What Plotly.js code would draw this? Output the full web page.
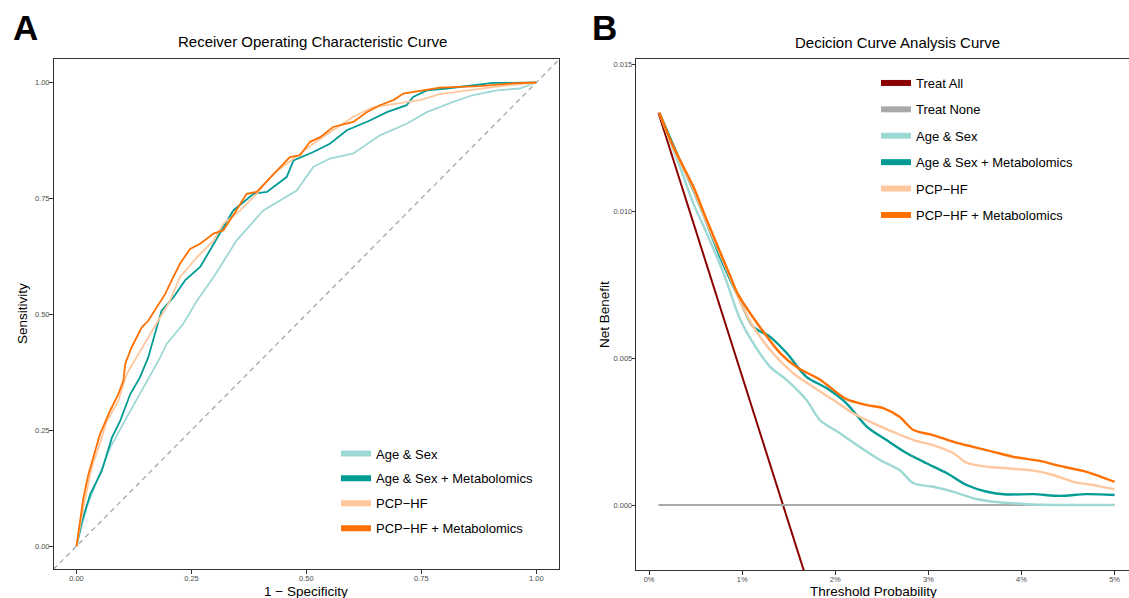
<!DOCTYPE html>
<html>
<head>
<meta charset="utf-8">
<script src="https://cdn.plot.ly/plotly-3.0.1.min.js"></script>
<style>html,body{margin:0;padding:0;background:#fff;}#chart{width:1129px;height:598px;}</style>
</head>
<body>
<div id="chart"></div>
<script>
// ---------- Panel A: ROC curves ----------
const rocNames = ["Age & Sex", "Age & Sex + Metabolomics", "PCP\u2212HF", "PCP\u2212HF + Metabolomics"];

const ageSexFpr = [0, 0.022, 0.044, 0.073, 0.109, 0.145, 0.182, 0.196, 0.232, 0.262, 0.298, 0.348, 0.406, 0.479, 0.515, 0.551, 0.602, 0.660, 0.718, 0.762, 0.819, 0.863, 0.914, 0.964, 1.0];
const ageSexTpr = [0, 0.083, 0.140, 0.212, 0.277, 0.342, 0.407, 0.436, 0.479, 0.529, 0.580, 0.659, 0.724, 0.767, 0.818, 0.836, 0.847, 0.886, 0.911, 0.936, 0.958, 0.973, 0.983, 0.987, 1.0];

const ageSexMetFpr = [0, 0.012, 0.030, 0.055, 0.077, 0.095, 0.117, 0.138, 0.156, 0.171, 0.185, 0.211, 0.236, 0.269, 0.298, 0.341, 0.385, 0.414, 0.457, 0.472, 0.515, 0.551, 0.588, 0.638, 0.675, 0.718, 0.732, 0.762, 0.805, 0.863, 0.906, 0.950, 1.0];
const ageSexMetTpr = [0, 0.054, 0.112, 0.162, 0.234, 0.270, 0.328, 0.364, 0.407, 0.458, 0.508, 0.537, 0.573, 0.602, 0.652, 0.724, 0.760, 0.764, 0.796, 0.832, 0.850, 0.868, 0.897, 0.918, 0.936, 0.951, 0.969, 0.983, 0.987, 0.993, 0.999, 0.999, 1.0];

const pcpFpr = [0, 0.015, 0.033, 0.048, 0.066, 0.091, 0.109, 0.138, 0.156, 0.182, 0.203, 0.225, 0.262, 0.298, 0.319, 0.356, 0.392, 0.428, 0.472, 0.515, 0.558, 0.602, 0.645, 0.703, 0.747, 0.790, 0.841, 0.914, 1.0];
const pcpTpr = [0, 0.083, 0.169, 0.212, 0.270, 0.313, 0.371, 0.421, 0.450, 0.493, 0.529, 0.580, 0.623, 0.659, 0.695, 0.724, 0.760, 0.803, 0.836, 0.868, 0.897, 0.926, 0.947, 0.955, 0.962, 0.975, 0.982, 0.991, 1.0];

const pcpMetFpr = [0, 0.015, 0.026, 0.040, 0.051, 0.073, 0.091, 0.102, 0.106, 0.120, 0.142, 0.156, 0.175, 0.193, 0.207, 0.225, 0.247, 0.269, 0.298, 0.319, 0.345, 0.370, 0.392, 0.435, 0.464, 0.486, 0.508, 0.530, 0.558, 0.602, 0.631, 0.660, 0.689, 0.711, 0.747, 0.790, 0.877, 0.950, 1.0];
const pcpMetTpr = [0, 0.104, 0.155, 0.205, 0.241, 0.292, 0.328, 0.357, 0.393, 0.429, 0.472, 0.486, 0.515, 0.544, 0.573, 0.609, 0.641, 0.652, 0.674, 0.681, 0.720, 0.760, 0.764, 0.810, 0.839, 0.843, 0.872, 0.882, 0.904, 0.915, 0.936, 0.951, 0.962, 0.976, 0.982, 0.989, 0.992, 0.998, 1.0];

const rocTicks = [0, 0.25, 0.5, 0.75, 1];
const chanceLine = [-0.05, 1.05];

// ---------- Panel B: Decision curves ----------
const dcaNames = ["Treat All", "Treat None", "Age & Sex", "Age & Sex + Metabolomics", "PCP\u2212HF", "PCP\u2212HF + Metabolomics"];

const treatAllX = [0.001, 0.005, 0.010, 0.015, 0.020];
const treatAllY = [0.01334, 0.00936, 0.00438, -0.0006, -0.0056];

const treatNoneX = [0.001, 0.05];
const treatNoneY = [0, 0];

const dcaAgeSexX = [0.0011, 0.0033, 0.00475, 0.0062, 0.0080, 0.0098, 0.0112, 0.0130, 0.0148, 0.0169, 0.01835, 0.0205, 0.0226, 0.0248, 0.0269, 0.0284, 0.0305, 0.0327, 0.0348, 0.0370, 0.0391, 0.0413, 0.0450, 0.0500];
const dcaAgeSexY = [0.01334, 0.01151, 0.01026, 0.00924, 0.00788, 0.00630, 0.00550, 0.00470, 0.00425, 0.00357, 0.00289, 0.00244, 0.00198, 0.00153, 0.00119, 0.00074, 0.00062, 0.00045, 0.00023, 0.00011, 0.00006, 0.00002, 0.0, 0.0];

const dcaAgeSexMetX = [0.0011, 0.0033, 0.00475, 0.0062, 0.0076, 0.0094, 0.0112, 0.0130, 0.0148, 0.0169, 0.0191, 0.0212, 0.0234, 0.0255, 0.0277, 0.0298, 0.0320, 0.0341, 0.0363, 0.0384, 0.0413, 0.0441, 0.0470, 0.0500];
const dcaAgeSexMetY = [0.01334, 0.01173, 0.01071, 0.00958, 0.00845, 0.00720, 0.00606, 0.00572, 0.00516, 0.00436, 0.00397, 0.00346, 0.00266, 0.00221, 0.00176, 0.00142, 0.00108, 0.00068, 0.00045, 0.00036, 0.00037, 0.00031, 0.00037, 0.00034];

const dcaPcpX = [0.0011, 0.0026, 0.00475, 0.0062, 0.0087, 0.0098, 0.0112, 0.0133, 0.0155, 0.0176, 0.0198, 0.0219, 0.0241, 0.0262, 0.0284, 0.0305, 0.0327, 0.0341, 0.0363, 0.0384, 0.0413, 0.0434, 0.0456, 0.0477, 0.0500];
const dcaPcpY = [0.01334, 0.01215, 0.01075, 0.00960, 0.00775, 0.00690, 0.00606, 0.00516, 0.00448, 0.00402, 0.00357, 0.00312, 0.00278, 0.00249, 0.00221, 0.00204, 0.00176, 0.00144, 0.00130, 0.00125, 0.00117, 0.00102, 0.00079, 0.00068, 0.00053];

const dcaPcpMetX = [0.0011, 0.0026, 0.00475, 0.0062, 0.0087, 0.0095, 0.0118, 0.0141, 0.0160, 0.0183, 0.0212, 0.0234, 0.0252, 0.0269, 0.0284, 0.0305, 0.0327, 0.0348, 0.0370, 0.0391, 0.0420, 0.0441, 0.0470, 0.0500];
const dcaPcpMetY = [0.01334, 0.01219, 0.01083, 0.00969, 0.00780, 0.00720, 0.00610, 0.00516, 0.00466, 0.00428, 0.00360, 0.00340, 0.00329, 0.00300, 0.00255, 0.00238, 0.00215, 0.00198, 0.00181, 0.00164, 0.00150, 0.00133, 0.00113, 0.00079];

const dcaYTicks = [0, 0.005, 0.010, 0.015];
const dcaXTicks = [0, 0.01, 0.02, 0.03, 0.04, 0.05];

// ---------- styling ----------
const colAgeSex = "#9ED8D5", colAgeSexMet = "#009B95", colPcp = "#FFC79D", colPcpMet = "#FF7000";
const colTreatAll = "#8B0000", colTreatNone = "#A9A9A9";
const FONT = "Liberation Sans, Arial, Helvetica, sans-serif";
const W = 1129, H = 598;
const px = v => v / W, py = v => 1 - v / H;

const traces = [];
function line(x, y, color, width, xa, ya, shape) {
  traces.push({x: x, y: y, type: "scatter", mode: "lines", xaxis: xa, yaxis: ya,
    line: {color: color, width: width, shape: shape || "linear", smoothing: 0.8},
    showlegend: false, hoverinfo: "skip"});
}
function legendItem(name, color, leg, grp) {
  traces.push({x: [null], y: [null], type: "scatter", mode: "lines", name: name,
    legend: leg, legendgroup: grp, showlegend: true, line: {color: color, width: 6},
    xaxis: leg === "legend" ? "x" : "x2", yaxis: leg === "legend" ? "y" : "y2"});
}

// Panel A
line(ageSexFpr, ageSexTpr, colAgeSex, 1.8, "x", "y");
line(ageSexMetFpr, ageSexMetTpr, colAgeSexMet, 1.8, "x", "y");
line(pcpFpr, pcpTpr, colPcp, 1.8, "x", "y");
line(pcpMetFpr, pcpMetTpr, colPcpMet, 1.8, "x", "y");
// Panel B
line(treatAllX, treatAllY, colTreatAll, 2, "x2", "y2");
line(treatNoneX, treatNoneY, colTreatNone, 2, "x2", "y2");
line(dcaAgeSexX, dcaAgeSexY, colAgeSex, 2.4, "x2", "y2", "spline");
line(dcaAgeSexMetX, dcaAgeSexMetY, colAgeSexMet, 2.4, "x2", "y2", "spline");
line(dcaPcpX, dcaPcpY, colPcp, 2.4, "x2", "y2", "spline");
line(dcaPcpMetX, dcaPcpMetY, colPcpMet, 2.4, "x2", "y2", "spline");

const rocCols = [colAgeSex, colAgeSexMet, colPcp, colPcpMet];
rocNames.forEach((n, i) => legendItem(n, rocCols[i], "legend", "a" + i));
const dcaCols = [colTreatAll, colTreatNone, colAgeSex, colAgeSexMet, colPcp, colPcpMet];
dcaNames.forEach((n, i) => legendItem(n, dcaCols[i], "legend2", "b" + i));

const axisBase = {
  showgrid: false, zeroline: false, showline: true, linecolor: "#333333", linewidth: 1,
  ticks: "outside", ticklen: 3.5, tickwidth: 1, tickcolor: "#333333", ticklabelstandoff: -2,
  tickfont: {family: FONT, size: 7.5, color: "#4D4D4D"}, fixedrange: true
};

const layout = {
  width: W, height: H, margin: {l: 0, r: 0, t: 0, b: 0},
  paper_bgcolor: "#ffffff", plot_bgcolor: "#ffffff",
  font: {family: FONT, color: "#000000"},
  showlegend: true,
  xaxis: Object.assign({}, axisBase, {domain: [px(53.5), px(559.3)], range: [-0.05, 1.05], anchor: "y",
    tickvals: rocTicks, tickformat: ".2f", mirror: true}),
  yaxis: Object.assign({}, axisBase, {domain: [py(569.3), py(59.3)], range: [-0.05, 1.05], anchor: "x",
    tickvals: rocTicks, tickformat: ".2f", mirror: true}),
  xaxis2: Object.assign({}, axisBase, {domain: [px(636.3), 1], range: [-0.001375, 0.05155], anchor: "y2",
    tickvals: dcaXTicks, tickformat: ".0%", mirror: true}),
  yaxis2: Object.assign({}, axisBase, {domain: [py(570), py(59.3)], range: [-0.00221, 0.01516], anchor: "x2",
    tickvals: dcaYTicks, tickformat: ".3f", mirror: false}),
  legend: {x: px(336), y: py(438.5), xanchor: "left", yanchor: "top", bgcolor: "rgba(0,0,0,0)",
    font: {family: FONT, size: 13, color: "#000"}, traceorder: "grouped", tracegroupgap: 5},
  legend2: {x: px(876), y: py(68), xanchor: "left", yanchor: "top", bgcolor: "rgba(0,0,0,0)",
    font: {family: FONT, size: 13, color: "#000"}, traceorder: "grouped", tracegroupgap: 6.5},
  shapes: [{type: "line", xref: "x", yref: "y", x0: chanceLine[0], y0: chanceLine[0], x1: chanceLine[1], y1: chanceLine[1],
    line: {color: "#A6A6A6", width: 1.3, dash: "5px,4px"}, layer: "below"}],
  annotations: [
    {text: "<b>A</b>", x: px(10.5), y: py(27.5), xref: "paper", yref: "paper", xanchor: "left", yanchor: "middle",
      showarrow: false, font: {family: FONT, size: 35, color: "#000"}},
    {text: "<b>B</b>", x: px(589.5), y: py(27.5), xref: "paper", yref: "paper", xanchor: "left", yanchor: "middle",
      showarrow: false, font: {family: FONT, size: 35, color: "#000"}},
    {text: "Receiver Operating Characteristic Curve", x: px(312.4), y: py(42), xref: "paper", yref: "paper",
      xanchor: "center", yanchor: "middle", showarrow: false, font: {family: FONT, size: 15, color: "#000"}},
    {text: "Decicion Curve Analysis Curve", x: px(897.6), y: py(43), xref: "paper", yref: "paper",
      xanchor: "center", yanchor: "middle", showarrow: false, font: {family: FONT, size: 15, color: "#000"}},
    {text: "Sensitivity", x: px(22), y: py(314), xref: "paper", yref: "paper", textangle: -90,
      xanchor: "center", yanchor: "middle", showarrow: false, font: {family: FONT, size: 13.5, color: "#000"}},
    {text: "1 \u2212 Specificity", x: px(306.4), y: py(591), xref: "paper", yref: "paper",
      xanchor: "center", yanchor: "middle", showarrow: false, font: {family: FONT, size: 13.5, color: "#000"}},
    {text: "Net Benefit", x: px(604), y: py(315), xref: "paper", yref: "paper", textangle: -90,
      xanchor: "center", yanchor: "middle", showarrow: false, font: {family: FONT, size: 13.5, color: "#000"}},
    {text: "Threshold Probability", x: px(873), y: py(591), xref: "paper", yref: "paper",
      xanchor: "center", yanchor: "middle", showarrow: false, font: {family: FONT, size: 13.5, color: "#000"}}
  ]
};

Plotly.newPlot("chart", traces, layout, {displayModeBar: false, staticPlot: true});
</script>
</body>
</html>
